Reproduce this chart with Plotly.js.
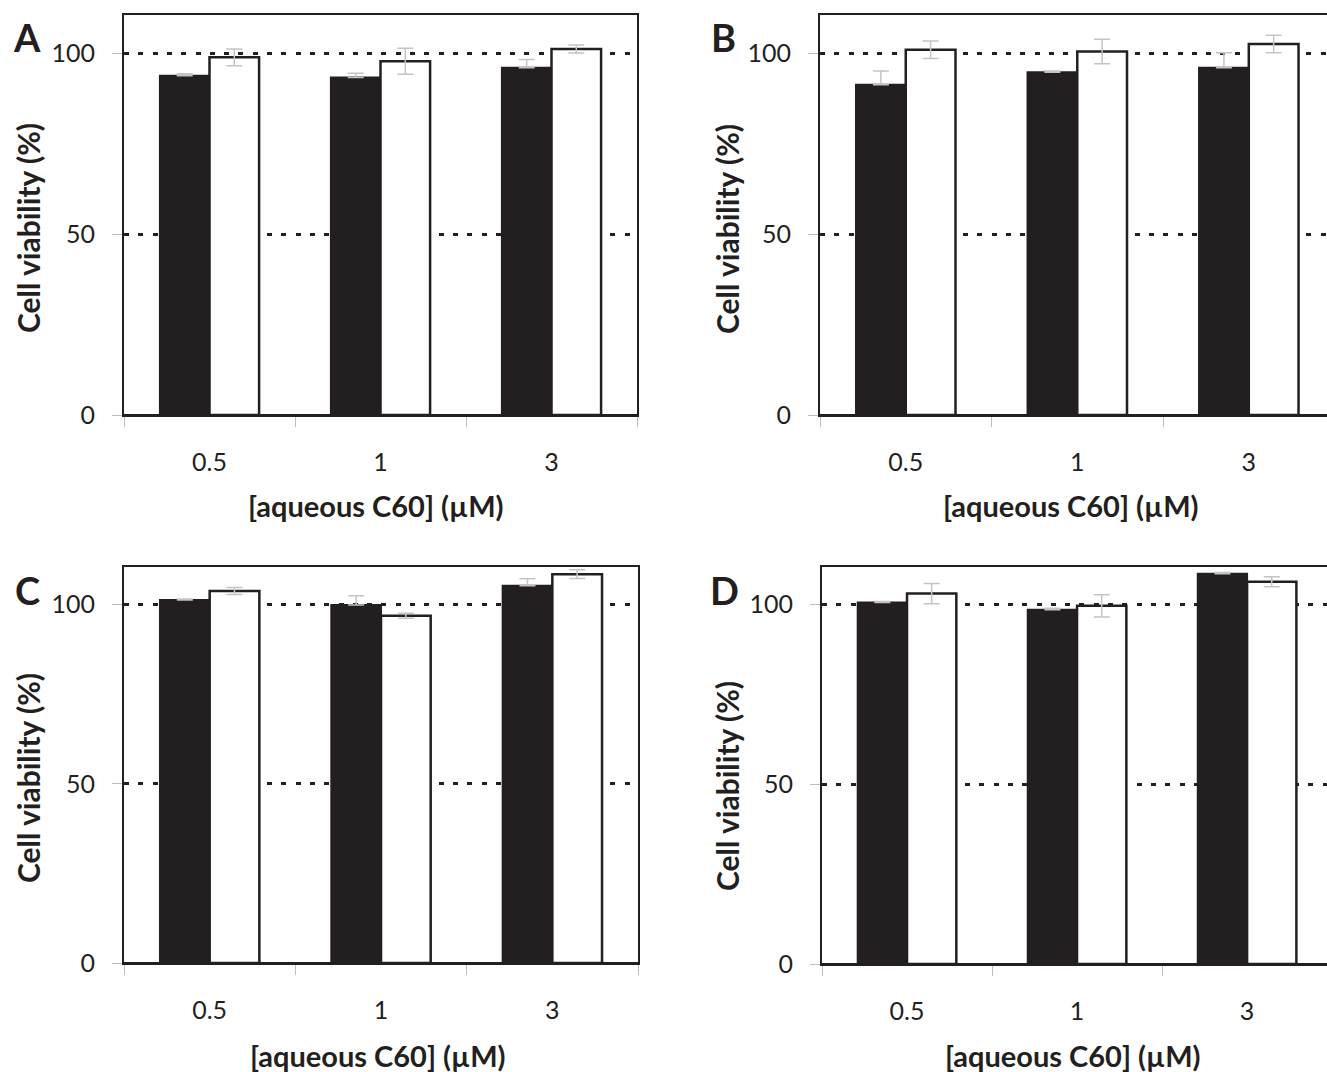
<!DOCTYPE html>
<html>
<head>
<meta charset="utf-8">
<script src="https://cdn.plot.ly/plotly-3.0.1.min.js"></script>
<style>html,body{margin:0;padding:0;background:#fff;}#chart{width:1327px;height:1072px;}</style>
</head>
<body>
<div id="chart"></div>
<script>
// ---- data ----
const categories = ['0.5', '1', '3'];
const panelLetters = ['A', 'B', 'C', 'D'];
const xTitle = '[aqueous C60] (\u00b5M)';
const yTitle = 'Cell viability (%)';
const yTickVals = [0, 50, 100];
const yTickText = ['0', '50', '100'];

const blackA = [93.7, 93.2, 95.9];
const blackErrA = [0.6, 1.2, 2.3];
const whiteA = [98.8, 97.7, 101.1];
const whiteErrA = [2.3, 3.6, 1.1];

const blackB = [91.2, 94.7, 95.9];
const blackErrB = [3.8, 0.3, 4.2];
const whiteB = [100.9, 100.4, 102.5];
const whiteErrB = [2.4, 3.4, 2.4];

const blackC = [101.3, 99.9, 105.3];
const blackErrC = [0.3, 2.6, 1.9];
const whiteC = [103.8, 96.9, 108.5];
const whiteErrC = [1.0, 0.7, 1.2];

const blackD = [100.6, 98.6, 108.6];
const blackErrD = [0.3, 0.4, 0.4];
const whiteD = [103.1, 99.7, 106.4];
const whiteErrD = [2.8, 3.1, 1.4];

const blackSeries = [blackA, blackB, blackC, blackD];
const blackErrs = [blackErrA, blackErrB, blackErrC, blackErrD];
const whiteSeries = [whiteA, whiteB, whiteC, whiteD];
const whiteErrs = [whiteErrA, whiteErrB, whiteErrC, whiteErrD];

// ---- style / layout ----
const W = 1327, H = 1072;
const INK = '#231f20';
const FONT = 'Lato, "Open Sans", sans-serif';
const px = v => v / W;
const py = v => 1 - v / H;

const xDomains = [[px(124), px(637)], [px(820), 1], [px(124), px(638)], [px(822), 1]];
const yDomains = [[py(415), py(15)], [py(415), py(15)], [py(963), py(567)], [py(964), py(567)]];
const xRanges = [[-0.5, 2.5], [-0.5, 2.456], [-0.5, 2.5], [-0.5, 2.47]];

const traces = [];
const layout = {
  width: W, height: H,
  margin: {l: 0, r: 0, t: 0, b: 0},
  paper_bgcolor: '#fff', plot_bgcolor: '#fff',
  showlegend: false,
  barmode: 'group', bargap: 0.42, bargroupgap: 0,
  font: {family: FONT, color: INK, size: 24},
  annotations: []
};

for (let i = 0; i < 4; i++) {
  const s = i === 0 ? '' : String(i + 1);
  const xa = 'x' + s, ya = 'y' + s;
  traces.push({
    type: 'bar', x: categories, y: blackSeries[i], xaxis: xa, yaxis: ya,
    marker: {color: INK, line: {color: INK, width: 2}},
    error_y: {type: 'data', symmetric: false, array: blackErrs[i], arrayminus: [0, 0, 0],
              color: '#c4c4c4', thickness: 1.5, width: 8}
  });
  traces.push({
    type: 'bar', x: categories, y: whiteSeries[i], xaxis: xa, yaxis: ya,
    marker: {color: '#ffffff', line: {color: INK, width: 2.5}},
    error_y: {type: 'data', array: whiteErrs[i], color: '#c4c4c4', thickness: 1.5, width: 8}
  });
  layout['xaxis' + s] = {
    domain: xDomains[i], anchor: ya, type: 'category', range: xRanges[i],
    showline: true, mirror: true, linecolor: INK, linewidth: 2,
    ticks: 'outside', tickson: 'boundaries', ticklen: 10, tickwidth: 1, tickcolor: '#bdbdbd',
    ticklabelstandoff: 24, tickfont: {size: 25, family: FONT, color: INK},
    showgrid: false, zeroline: false, fixedrange: true
  };
  layout['yaxis' + s] = {
    domain: yDomains[i], anchor: xa, range: [0, 110.5],
    tickvals: yTickVals, ticktext: yTickText,
    showline: true, mirror: true, linecolor: INK, linewidth: 2,
    ticks: 'outside', ticklen: 10, tickwidth: 1, tickcolor: '#bdbdbd',
    ticklabelstandoff: 12, tickfont: {size: 25, family: FONT, color: INK},
    showgrid: true, gridcolor: INK, gridwidth: 3, griddash: '5px,9.3px',
    zeroline: true, zerolinecolor: INK, zerolinewidth: 2, fixedrange: true
  };
}

const letterPos = [[27, 37], [723, 37], [27, 590], [724, 590]];
const yTitlePos = [[28, 228], [727, 229], [28, 778], [727, 786]];
const xTitlePos = [[376, 506], [1071, 506], [378, 1055], [1073, 1055]];
for (let i = 0; i < 4; i++) {
  layout.annotations.push({xref: 'paper', yref: 'paper', x: px(letterPos[i][0]), y: py(letterPos[i][1]),
    xanchor: 'center', yanchor: 'middle', showarrow: false, text: '<b>' + panelLetters[i] + '</b>',
    font: {size: 38, family: FONT, color: INK}});
  layout.annotations.push({xref: 'paper', yref: 'paper', x: px(yTitlePos[i][0]), y: py(yTitlePos[i][1]),
    xanchor: 'center', yanchor: 'middle', showarrow: false, textangle: -90, text: '<b>' + yTitle + '</b>',
    font: {size: 30, family: FONT, color: INK}});
  layout.annotations.push({xref: 'paper', yref: 'paper', x: px(xTitlePos[i][0]), y: py(xTitlePos[i][1]),
    xanchor: 'center', yanchor: 'middle', showarrow: false, text: '<b>' + xTitle + '</b>',
    font: {size: 29, family: FONT, color: INK}});
}

Plotly.newPlot('chart', traces, layout, {displayModeBar: false, staticPlot: true});
</script>
</body>
</html>
